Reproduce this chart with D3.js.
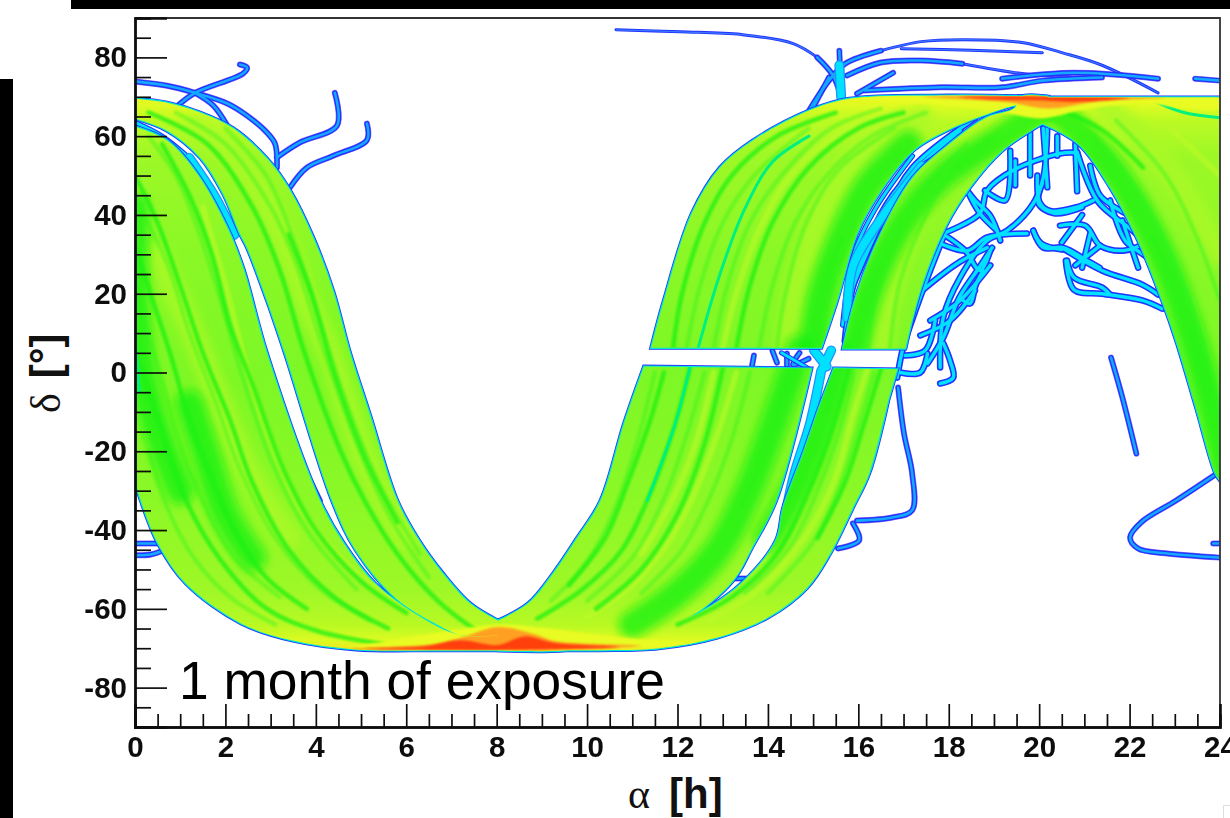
<!DOCTYPE html>
<html>
<head>
<meta charset="utf-8">
<script src="https://cdn.jsdelivr.net/npm/d3@7"></script>
<style>
html, body { margin: 0; padding: 0; background: #fff; overflow: hidden; }
svg { display: block; }
</style>
</head>
<body>
<svg id="chart"></svg>
<script>
//axis ticks
const xMajorTicks = [0, 2, 4, 6, 8, 10, 12, 14, 16, 18, 20, 22, 24];
const xMinorTicks = [0.5, 1, 1.5, 2.5, 3, 3.5, 4.5, 5, 5.5, 6.5, 7, 7.5, 8.5, 9, 9.5, 10.5, 11, 11.5, 12.5, 13, 13.5, 14.5, 15, 15.5, 16.5, 17, 17.5, 18.5, 19, 19.5, 20.5, 21, 21.5, 22.5, 23, 23.5];
const yMajorTicks = [80, 60, 40, 20, 0, -20, -40, -60, -80];
const yMinorTicks = [85, 75, 70, 65, 55, 50, 45, 35, 30, 25, 15, 10, 5, -5, -10, -15, -25, -30, -35, -45, -50, -55, -65, -70, -75, -85];

//colour palette of the density map, low to high
const densityLevels = [0, 1, 2, 3, 4, 5, 6, 7];
const densityColors = ['#2030ff', '#00e0ff', '#00f08c', '#12f012', '#90f828', '#e8fb20', '#ffa020', '#ff4010'];
//density against declination, used as the base fill of the swaths
const baseDeltas = [70, 68, 64, 55, 30, 0, -30, -55, -64, -68, -70];
const baseDensity = [5.1, 4.9, 4.5, 4.15, 3.95, 3.85, 3.95, 4.15, 4.45, 4.85, 5.2];

//swath edges as [alpha, delta]
const bandAEdge1 = [[0, 69.5], [0.71, 68.5], [1.44, 66], [2.17, 62], [2.92, 54.3], [3.43, 46.2], [3.94, 34.3], [4.38, 20.8], [4.76, 4.8], [5.2, -10.9], [5.8, -32.5], [6.28, -42.6], [6.81, -51], [7.41, -58.6], [8.03, -63]];
const bandAEdge2 = [[8.6, -66], [7.28, -66.8], [6.64, -63.7], [5.75, -57.1], [4.89, -45.2], [4.36, -32.5], [3.32, 4.8], [2.92, 18.3], [2.48, 31.7], [2.32, 35.3], [1.95, 45.4], [1.44, 54.6], [0.71, 61.4], [0, 64.5]];
const bandBEdge1 = [[0, 62.4], [0.71, 58.9], [1.37, 50.5], [2.04, 36.8], [2.39, 26.6], [2.92, 4.8], [4.09, -32.5], [4.62, -43.4], [5.31, -53.6], [6.19, -61.2], [7.23, -66.8], [8.6, -66]];
const bandBEdge2 = [[8.6, -70.5], [6.64, -70.5], [4.89, -70.3], [3.47, -68], [2.35, -63.7], [1.13, -53.6], [0.51, -43.4], [0.13, -32.5], [0, -27.4]];
const bandCEdge1 = [[8.03, -63], [8.7, -58.6], [9.25, -51], [9.78, -42], [10.3, -32.5], [10.82, -12.9], [11.26, 1.5]];
const bandCEdge2 = [[14.96, 1], [14.18, -32.5], [13.65, -44.4], [13.23, -52.8], [12.28, -62.2], [11.5, -66.2], [9.5, -70.5], [8.03, -70.5]];
const bandDEdge1 = [[15.46, 1], [16.86, 0.8]];
const bandDEdge2 = [[16.66, -7.1], [16.24, -25.6], [15.88, -34.3], [15.38, -45.9], [14.87, -54.6], [14, -62.2], [12.88, -67.3], [11.59, -70], [10.29, -70.5], [8.96, -70.5]];
const bandDEdge3 = [[11.5, -66], [12.46, -61.2], [13.41, -53.6], [14.18, -42.6], [14.34, -34.3], [14.78, -20.6], [15.11, -9.6]];
const bandEEdge1 = [[11.42, 6.3], [11.7, 18.3], [12.32, 40.4], [12.94, 52], [13.67, 58.9], [14.91, 66.5], [15.8, 69.5], [18.03, 70.3], [20.2, 70]];
const bandEEdge2 = [[19.27, 67.3], [18.1, 62.2], [17.21, 56.3], [16.5, 46.2], [15.97, 35.3], [15.53, 18.3], [15.18, 6.3]];
const bandFEdge1 = [[15.66, 6.1], [15.97, 20], [16.5, 35.3], [17.21, 49.5], [17.92, 57.1], [18.83, 64.7], [19.45, 67], [19.6, 70], [20.2, 70]];
const bandFEdge2 = [[20.07, 63.2], [19.18, 56.3], [18.47, 47], [17.92, 36.8], [17.39, 21.6], [17.04, 6.1]];
const bandGEdge1 = [[20.07, 63.2], [20.86, 58.1], [21.57, 47], [22.19, 33.5], [22.72, 18.3], [23.03, 8.1], [23.47, -8.9], [23.89, -25.4], [24, -27.4]];
const bandGEdge2 = [[24, 69.8], [20, 69.8]];

//streaks inside the swaths
const darkWideStreaks = [
  [[0, 42], [0, 20], [0.15, 0], [0.5, -15], [1, -30]],
  [[1.2, -8], [1.6, -22], [2, -36], [2.6, -47]],
  [[14.7, 6], [14.1, -14], [13.5, -32], [12.9, -45], [12, -56], [11, -64]],
  [[15.9, 6], [16.3, 22], [17, 38], [17.9, 50], [19.2, 60], [20, 66]],
  [[20.2, 68], [21, 60], [21.9, 47], [22.7, 30], [23.3, 12], [23.8, -8], [24.2, -28]],
  [[15.6, 4], [15.2, -12], [14.7, -27], [14, -42]],
  [[15, 6], [15.2, 20], [15.6, 33], [16.2, 47], [17.1, 58]]
];
const darkStreaks = [
  [[0.3, 66], [1.6, 58], [2.6, 42], [3.2, 26], [3.75, 5], [4.55, -20], [5.1, -33], [5.8, -46], [6.7, -58], [7.6, -66]],
  [[3.4, 35], [3.9, 20], [4.4, 0], [5.1, -22], [5.8, -38]],
  [[0, 5], [0.4, -8], [1.13, -32.5], [1.9, -47.7], [2.88, -59.7], [4, -65.5], [5.5, -69]],
  [[0.6, 58], [1.2, 45], [1.7, 30], [2.1, 12], [2.6, -3], [3.3, -25], [4, -40], [5, -53], [6, -61]],
  [[0, 50], [0.5, 38], [1, 22], [1.5, 5], [2.1, -12], [2.6, -28], [3.4, -45], [4.4, -57], [5.6, -65]],
  [[0, 32], [0.4, 18], [0.8, 4], [1.2, -12], [1.7, -27], [2.2, -40], [2.9, -52], [3.8, -60]],
  [[12.28, 1.5], [11.93, -13.7], [11.33, -32.5], [10.73, -45.7], [9.9, -55], [8.9, -62.5]],
  [[11.7, 0], [11.4, -12], [10.9, -28], [10.4, -42], [9.6, -54]],
  [[13, 1], [12.6, -18], [12, -36], [11.2, -50], [10.2, -60]],
  [[15.8, 1], [15.4, -15], [14.9, -30], [14.2, -46], [13.2, -57], [12, -64]],
  [[16.5, 1], [16.1, -14], [15.7, -28], [15.1, -42]],
  [[13.3, 6], [13.6, 22], [14.1, 38], [14.9, 52], [16, 62], [17, 66]],
  [[11.9, 6], [12.1, 20], [12.6, 38], [13.2, 50], [14.2, 60], [15.5, 66]],
  [[20.4, 67], [21.4, 61.5], [22.3, 52]]
];
const lightWideStreaks = [
  [[14.4, 6], [14.6, 20], [14.9, 32], [15.4, 46], [16.2, 57], [17.4, 65]],
  [[21.4, 68], [22.4, 58], [23.2, 46], [24, 30]],
  [[16.5, 6], [16.7, 20], [17.1, 35], [17.9, 50]],
  [[0.5, 30], [1.2, 12], [1.8, -5], [2.5, -25], [3.4, -42]],
  [[1.3, 62], [2.4, 52], [3.2, 36], [3.8, 18], [4.3, 5], [5.2, -25], [6, -42]]
];
const lightStreaks = [
  [[1.5, 42], [2.05, 20], [2.5, 0], [3.1, -20], [3.7, -35], [4.8, -50], [6, -60]],
  [[13.3, 0], [12.9, -15], [12.4, -30], [11.8, -43], [11, -54], [10, -62]],
  [[12.8, 0], [12.4, -18], [11.9, -32], [11.2, -46]],
  [[16.2, 1], [15.9, -10], [15.45, -28], [14.8, -42], [13.8, -55], [12.7, -63]],
  [[13, 6], [13.3, 20], [13.8, 36], [14.5, 50], [15.6, 61], [17, 67]],
  [[22.9, 62], [24, 50]]
];
const faintStreaks = [
  [[0.9, 66], [2, 58], [3, 42], [3.55, 28], [4.1, 8], [4.9, -18], [5.6, -36], [6.5, -52]],
  [[2, 62], [2.9, 50], [3.5, 34], [4.05, 15], [4.6, -5], [5.4, -28], [6.3, -46]],
  [[0.3, 60], [0.9, 50], [1.4, 36], [1.9, 18], [2.35, 0], [3, -22], [3.8, -40], [4.9, -55]],
  [[0, 44], [0.7, 28], [1.2, 10], [1.8, -8], [2.3, -24], [3.1, -42], [4.1, -55], [5.2, -63]],
  [[0, 20], [0.6, -2], [1, -18], [1.5, -33], [2.2, -47], [3.2, -57]],
  [[0.3, -20], [0.7, -34], [1.3, -47], [2.1, -57], [3.1, -64]],
  [[11.5, 0], [11.1, -18], [10.6, -35], [10, -48], [9.2, -58]],
  [[12.6, 0], [12.2, -16], [11.7, -32], [11, -47], [10, -58]],
  [[13.6, 0], [13.2, -17], [12.7, -32], [12.1, -45], [11.2, -56]],
  [[15.9, 0], [15.6, -14], [15.1, -30], [14.5, -44], [13.5, -56]],
  [[16.35, 0], [16, -14], [15.55, -30], [15, -43], [14, -56]],
  [[12.2, 6], [12.5, 22], [13, 38], [13.7, 50], [14.9, 62]],
  [[12.8, 6], [13.1, 22], [13.6, 38], [14.3, 50], [15.4, 62], [16.5, 67]],
  [[13.8, 6], [14.1, 22], [14.6, 38], [15.3, 50], [16.3, 60], [17.5, 66]],
  [[14.2, 6], [14.35, 18], [14.85, 38], [15.6, 52], [16.8, 62]],
  [[16.2, 6], [16.4, 20], [16.85, 34], [17.5, 47], [18.4, 58]],
  [[16.7, 6], [16.9, 22], [17.3, 35], [18, 50], [19, 60]],
  [[21.2, 60], [22.2, 46], [23, 28], [23.6, 8], [24, -12]],
  [[21.7, 64], [22.8, 50], [23.5, 34], [24, 18]]
];
const cyanStreaks = [
  [[12.46, 6.3], [12.94, 25], [13.49, 41.6], [14.11, 53.6], [14.91, 60]],
  [[12.28, 1.5], [11.93, -13.7], [11.33, -32.5]],
  [[22.5, 69], [23.2, 66], [24, 64.7]],
  [[0, 9], [0.1, -5]]
];

//hot spots along the two ridges, each is a closed outline
const yellowSpots = [
  [[15.6, 70], [17, 70.2], [19, 70.2], [21, 70.2], [23, 70], [24, 69.8], [24, 67], [22.2, 68.2], [20.9, 66.5], [20.07, 64.5], [19.2, 66], [17.8, 68], [16.5, 68.6]],
  [[4.6, -70], [6, -70.5], [9, -70.5], [11.5, -70], [12.6, -68.6], [11, -67.5], [9, -64.8], [8.03, -64], [7, -65.5], [5.4, -68.5]]
];
const orangeSpots = [
  [[17.4, 70], [19, 70.2], [21, 70.2], [22.8, 69.8], [21.3, 68.8], [20.2, 67], [19.3, 68.6]],
  [[7.3, -67], [8.03, -64.6], [8.85, -66.5], [9.3, -68.2], [11.2, -69.4], [9, -70.5], [6, -70.3], [5, -70], [6.6, -69]]
];
const redSpots = [
  [[18.2, 70], [20, 70.1], [22, 69.8], [20.8, 68.7], [20, 69.1], [19, 69.3]],
  [[4.6, -70.2], [6.4, -69.5], [7.2, -68], [8.03, -69.2], [8.6, -67], [9.3, -68.7], [10.7, -69.7], [8.5, -70.4], [6, -70.4]]
];

//long isolated tracks
const trackLines = [
  [[0, 73.9], [0.71, 72.8], [1.33, 71], [2.04, 68.3], [2.48, 65.2], [2.92, 60.9], [3.1, 58], [3.14, 52]],
  [[0.95, 67.8], [1.33, 71], [2.39, 75.9], [2.48, 77.4], [2.32, 78.2]],
  [[1.33, 71], [1.73, 67.8], [2.04, 62.7]],
  [[3.14, 54.6], [3.65, 58.4], [4.47, 62.7], [4.42, 71]],
  [[3.43, 47], [3.8, 52], [4.38, 55], [5.13, 59], [5.13, 63.2]],
  [[0, -43.4], [0.66, -43.4]],
  [[0, -46.4], [0.35, -46.2], [0.66, -45]],
  [[15.09, 80], [15.44, 75.4], [15.62, 69.8]],
  [[15.58, 81.7], [15.62, 69.8]],
  [[14.91, 66.5], [15.35, 74.1], [15.71, 78.4], [16.5, 81.7]],
  [[15.75, 75.4], [16.5, 78.7], [17.39, 79.2], [18.3, 78.4]],
  [[19.18, 74.6], [20.77, 76.1], [22.63, 74.6]],
  [[15.97, 70.8], [16.77, 76.1]],
  [[16.15, 71.6], [17.83, 72.4], [19.18, 72.4], [20.07, 74.1], [21.39, 74.9]],
  [[15.35, 74.9], [15, 67.3]],
  [[23.45, 74.6], [24, 74.1]],
  [[16.88, -3.8], [17.01, -15.5], [17.19, -25.6], [17.19, -35], [16.75, -36.8], [15.97, -37.6]],
  [[15.88, -38.3], [16.02, -42.6], [15.55, -44.7]],
  [[13.23, -52.3], [13.52, -52.3]],
  [[21.59, 3.8], [21.84, -6.3], [22.15, -20.6]],
  [[23.94, -25.6], [23.03, -32.5], [22.26, -38], [22.01, -41.9], [22.19, -44.7], [22.79, -45.9], [24, -47]],
  [[23.85, -43.4], [24, -43.4]],
  [[13.69, 4.3], [13.65, 1.8]],
  [[14.42, 4.8], [14.42, 1.8]],
  [[14.7, 5], [14.55, 2], [14.9, 3.5]],
  [[14.1, 5.5], [14.2, 2.5]],
  [[3.87, -27.4], [4.09, -32.5]]
];
//the arcs at the very top are thinner and mostly blue
const thinTracks = [
  [[10.64, 87], [12.06, 86.5], [13.41, 85.8], [14.56, 83.5], [15.09, 80]],
  [[16.5, 81.7], [17.39, 84], [18.3, 84.5], [19.62, 83.8], [20.5, 81.2], [21.39, 78], [22.63, 71]],
  [[18.3, 78.4], [19.62, 75.9], [20.7, 75]],
  [[16.95, 82.2], [18.5, 81.8], [20.07, 81.2]]
];
//tangle of short tracks below the northern arch
const tangleLines = [
  [[17.81, 1.3], [17.88, 14], [18.25, 24.1], [18.85, 33.5], [19.29, 36], [19.87, 42.9], [20.09, 49.5], [20.18, 62.2]],
  [[17.88, 35.3], [18.69, 40.4], [18.85, 46.2], [19.42, 51.3], [20.46, 55.6], [20.84, 55.8]],
  [[18.41, 46.2], [18.69, 40.4], [19.07, 36]],
  [[20.09, 62], [20.18, 47]],
  [[20.4, 60], [20.4, 55]],
  [[20.8, 58], [20.84, 46]],
  [[19.96, 50], [20.02, 43], [20.25, 41], [20.84, 42], [21.2, 43.7]],
  [[19.87, 36], [20.09, 31.7], [20.53, 31.7], [21.06, 28.4], [21.34, 26.6]],
  [[20.62, 28.4], [20.77, 24.1], [21.39, 21.6], [21.55, 20]],
  [[20.59, 28.4], [20.77, 21], [21.39, 20], [22.28, 18.3], [22.72, 16.2]],
  [[20.5, 31.7], [21.39, 25.9], [22.28, 22.3], [22.63, 19.8]],
  [[20.95, 40], [20.5, 33]],
  [[21.13, 35.3], [20.95, 26.6]],
  [[21.84, 38.6], [22.19, 26.6]],
  [[20.84, 56], [21.3, 43.4], [22.28, 33.5], [22.63, 22.3]],
  [[20.07, 48], [19.98, 43], [20.33, 40.4], [20.95, 41.9]],
  [[19.87, 36], [20.05, 32.7], [20.5, 31.2]],
  [[17.88, 34.3], [17.53, 24.1], [17.21, 14], [16.99, 6.3], [16.86, -1.3]],
  [[18.96, 31.7], [18.67, 26.6], [18.23, 19], [17.88, 8.9], [17.53, 2.3]],
  [[17.88, 7.4], [18.03, 3], [18.1, -1.3], [17.81, -2.8]],
  [[16.93, 0], [17.37, 0], [17.53, 4.8]],
  [[18.25, 19], [18.47, 17.5], [18.6, 22.3], [18.76, 25.9]],
  [[17.66, 33.5], [18.41, 30.9], [18.85, 34.3], [19.73, 35.3]],
  [[17.44, 21.1], [18.19, 27.7], [18.85, 31.7]],
  [[15.88, 22], [16.5, 38], [17.2, 52], [18.6, 64.7]],
  [[19.85, 65], [18.9, 60], [18.2, 55]],
  [[15.7, 8], [15.86, 20.8], [16.22, 33.5], [16.75, 44.9], [17.48, 53.8], [18.25, 61.4]],
  [[15.93, 6.9], [16.04, 18.3], [16.44, 31], [17.04, 43.7], [17.7, 52.5]],
  [[17.59, 13.2], [18.25, 18.3], [18.92, 27.2]],
  [[17.37, 9.4], [18.03, 13.2], [18.58, 20.8]],
  [[17.04, 4.3], [17.48, 5.6], [17.7, 13.2]],
  [[17.92, 34.8], [18.36, 31], [18.69, 25.9], [18.92, 31]],
  [[18.25, 48.7], [18.58, 43.7], [18.92, 39.8], [19.14, 33.5]],
  [[18.8, 46.2], [19.25, 43.7], [19.36, 56.3]],
  [[19.47, 53.8], [19.47, 47.5]],
  [[19.8, 61.4], [19.8, 50]],
  [[21.13, 52.5], [21.35, 44.9], [22.01, 39.8]],
  [[21.57, 43.7], [21.9, 33.5], [22.46, 28.4], [22.79, 20.8]],
  [[20.46, 37.3], [21.02, 37.3], [21.35, 32.2], [21.9, 31], [22.46, 33.5]],
  [[20.8, 27.2], [21.35, 32.2]]
];
//wider cyan fills of the gaps between swaths
const gapTracks = [
  [[1.2, 54.5], [1.75, 45], [2.2, 35]],
  [[15.02, 5.6], [15.3, 1.5]],
  [[15.4, 5.6], [15.2, 0.8]],
  [[15.18, 0.5], [14.93, -13], [14.58, -25.9], [14.4, -35.3]],
  [[15.75, 14], [15.88, 27], [16.5, 39], [17.4, 52.5]],
  [[15.58, 78], [15.62, 70]]
];
const gapThinLines = [
  [[0, 63.5], [0.6, 60], [1.2, 54.5]],
  [[14.3, 5], [14.9, 1]],
  [[17.4, 52.5], [18.6, 61], [19.6, 66.5]],
  [[15.65, 12], [15.9, 30], [16.4, 42], [17.2, 55]],
  [[14.5, -28], [14.6, -38], [14.5, -44]]
];

//canvas dimensions and plot box
const width = 1230;
const height = 818;
const plotLeft = 135;
const plotRight = 1220;
const plotTop = 18;
const plotBottom = 727;

const svg = d3.select('#chart').attr('width', width).attr('height', height);

const xScale = d3.scaleLinear().domain([0, 24]).range([plotLeft, plotRight]);
const yScale = d3.scaleLinear().domain([90, -90]).range([plotTop, plotBottom]);
const densityColor = d3.scaleLinear().domain(densityLevels).range(densityColors);

const curve = d3.line().x(d => xScale(d[0])).y(d => yScale(d[1])).curve(d3.curveCatmullRom);
const straight = d3.line().x(d => xScale(d[0])).y(d => yScale(d[1]));
const closedCurve = d3.line().x(d => xScale(d[0])).y(d => yScale(d[1])).curve(d3.curveCatmullRomClosed);

//joins several curved edges in one closed outline
const outline = (...edges) => edges.map((e, i) => {
  const p = e.length > 2 ? curve(e) : straight(e);
  return i === 0 ? p : p.replace(/^M/, 'L');
}).join('') + 'Z';

const bandPaths = [
  outline(bandAEdge1, bandAEdge2),
  outline(bandBEdge1, bandBEdge2),
  outline(bandCEdge1, bandCEdge2),
  outline(bandDEdge1, bandDEdge2, bandDEdge3),
  outline(bandEEdge1, bandEEdge2),
  outline(bandFEdge1, bandFEdge2),
  outline(bandGEdge1, bandGEdge2)
];

const defs = svg.append('defs');
defs.append('clipPath').attr('id', 'plot-clip').append('rect')
  .attr('x', plotLeft).attr('y', plotTop)
  .attr('width', plotRight - plotLeft).attr('height', plotBottom - plotTop);
defs.append('clipPath').attr('id', 'band-clip').selectAll('path')
  .data(bandPaths).join('path').attr('d', d => d);
//blur sizes for the low resolution look of the map
[['soft', 0.6], ['hot', 1.1], ['fine', 1.1], ['wide', 5], ['ink', 0.35]].forEach(([id, s]) => {
  defs.append('filter').attr('id', id)
    .attr('x', -0.2).attr('y', -0.2).attr('width', 1.4).attr('height', 1.4)
    .append('feGaussianBlur').attr('stdDeviation', s);
});

const gradient = defs.append('linearGradient').attr('id', 'band-fill')
  .attr('gradientUnits', 'userSpaceOnUse')
  .attr('x1', 0).attr('x2', 0)
  .attr('y1', yScale(baseDeltas[0])).attr('y2', yScale(baseDeltas[baseDeltas.length - 1]));
gradient.selectAll('stop').data(baseDeltas).join('stop')
  .attr('offset', d => (yScale(d) - yScale(baseDeltas[0])) / (yScale(baseDeltas[baseDeltas.length - 1]) - yScale(baseDeltas[0])))
  .attr('stop-color', (d, i) => densityColor(baseDensity[i]));

//draws one group of polylines in the density colours
const drawLines = (parent, lines, color, lineWidth, opacity = 1, filter = null) => {
  parent.append('g').attr('filter', filter).selectAll('path').data(lines).join('path')
    .attr('d', d => d.length > 2 ? curve(d) : straight(d))
    .attr('fill', 'none')
    .attr('stroke', color)
    .attr('stroke-width', lineWidth)
    .attr('stroke-opacity', opacity)
    .attr('stroke-linecap', 'round')
    .attr('stroke-linejoin', 'round');
};

const plot = svg.append('g').attr('clip-path', 'url(#plot-clip)').append('g').attr('filter', 'url(#soft)');

//tracks, blue rim with a cyan core
drawLines(plot, thinTracks, densityColor(0), 3);
drawLines(plot, thinTracks, '#3a78ff', 1.2);
drawLines(plot, trackLines, '#5a30f0', 6, 0.7);
drawLines(plot, trackLines, densityColor(0), 5);
drawLines(plot, trackLines, '#12a8ff', 2.6);
drawLines(plot, tangleLines, densityColor(0), 6.5);
drawLines(plot, tangleLines, densityColor(1), 3.4);
drawLines(plot, gapThinLines, densityColor(0), 5);
drawLines(plot, gapThinLines, densityColor(1), 2.8);
drawLines(plot, gapTracks, '#2090ff', 10);
drawLines(plot, gapTracks, densityColor(1), 7.5);

//swath rims first so later fills merge where they overlap
const rims = plot.append('g');
rims.selectAll('path.rim').data(bandPaths).join('path').attr('class', 'rim')
  .attr('d', d => d).attr('fill', 'none').attr('stroke', densityColor(0)).attr('stroke-width', 4);
rims.selectAll('path.core').data(bandPaths).join('path').attr('class', 'core')
  .attr('d', d => d).attr('fill', 'none').attr('stroke', densityColor(1.4)).attr('stroke-width', 2.4);

plot.append('g').selectAll('path').data(bandPaths).join('path')
  .attr('d', d => d).attr('fill', 'url(#band-fill)');

//streaks, clipped to the swaths
const streaks = plot.append('g').attr('clip-path', 'url(#band-clip)').append('g');
drawLines(streaks, lightWideStreaks, densityColor(4.3), 24, 0.8, 'url(#wide)');
drawLines(streaks, darkWideStreaks, densityColor(3), 28, 0.75, 'url(#wide)');
drawLines(streaks, faintStreaks, densityColor(3.2), 4, 0.4, 'url(#fine)');
drawLines(streaks, lightStreaks, densityColor(4.5), 6, 0.6, 'url(#fine)');
drawLines(streaks, darkStreaks, densityColor(3.05), 4.5, 0.75, 'url(#fine)');
drawLines(streaks, cyanStreaks, densityColor(2.1), 3, 1);

//hot ridges
const hot = plot.append('g').attr('clip-path', 'url(#band-clip)').append('g');
const drawSpots = (spots, density) => {
  hot.append('g').attr('filter', 'url(#hot)').selectAll('path').data(spots).join('path')
    .attr('d', closedCurve)
    .attr('fill', densityColor(density));
};
drawSpots(yellowSpots, 5);
drawSpots(orangeSpots, 6);
drawSpots(redSpots, 7);

//frame on top and right
svg.append('path')
  .attr('d', `M${plotLeft},${plotTop}H${plotRight}V${plotBottom}`)
  .attr('fill', 'none').attr('stroke', '#333').attr('stroke-width', 1.8);

//axes with inward ticks
const axisInk = svg.append('g').attr('filter', 'url(#ink)');

const xMinor = d3.axisBottom(xScale).tickValues(xMinorTicks).tickSize(-13).tickFormat('');
const xMajor = d3.axisBottom(xScale).tickValues(xMajorTicks).tickSize(-23).tickPadding(9).tickFormat(String);
const yMinor = d3.axisLeft(yScale).tickValues(yMinorTicks).tickSize(-16).tickFormat('');
const yMajor = d3.axisLeft(yScale).tickValues(yMajorTicks).tickSize(-32).tickPadding(8).tickFormat(String);

[xMinor, xMajor].forEach(a => axisInk.append('g').attr('class', 'x axis').attr('transform', `translate(0,${plotBottom})`).call(a));
[yMinor, yMajor].forEach(a => axisInk.append('g').attr('class', 'y axis').attr('transform', `translate(${plotLeft},0)`).call(a));

axisInk.selectAll('.axis path.domain').attr('stroke', '#111').attr('stroke-width', 2.4);
axisInk.selectAll('.axis line').attr('stroke', '#111').attr('stroke-width', 1.7);
axisInk.selectAll('.axis text')
  .attr('font-family', '"Liberation Sans", Arial, sans-serif')
  .attr('font-weight', 'bold')
  .attr('font-size', 29.5)
  .attr('fill', '#111');

//axis titles
const xTitle = svg.append('text')
  .attr('x', 628).attr('y', 808)
  .attr('font-size', 42).attr('fill', '#111');
xTitle.append('tspan').attr('font-family', '"Liberation Serif", serif').text('α');
xTitle.append('tspan').attr('dx', 19)
  .attr('font-family', '"Liberation Sans", Arial, sans-serif').attr('font-weight', 'bold').text('[h]');

const yTitle = svg.append('text')
  .attr('transform', 'translate(60,413) rotate(-90)')
  .attr('font-size', 42).attr('fill', '#111');
yTitle.append('tspan').attr('font-family', '"Liberation Serif", serif').text('δ');
yTitle.append('tspan').attr('dx', 15)
  .attr('font-family', '"Liberation Sans", Arial, sans-serif').attr('font-weight', 'bold').text('[°]');

//exposure note
svg.append('text')
  .attr('x', 179).attr('y', 699)
  .attr('font-family', '"Liberation Sans", Arial, sans-serif')
  .attr('font-size', 53.3)
  .attr('fill', '#000')
  .text('1 month of exposure');

//black slide edges around the picture
svg.append('rect').attr('x', 71).attr('y', 0).attr('width', width - 71).attr('height', 9).attr('fill', '#000');
svg.append('rect').attr('x', 0).attr('y', 79).attr('width', 13).attr('height', height - 79).attr('fill', '#000');
//faint corner of the next slide element
svg.append('path').attr('d', 'M1223.5,818V805.5H1230').attr('fill', 'none').attr('stroke', '#ddd');
</script>
</body>
</html>
